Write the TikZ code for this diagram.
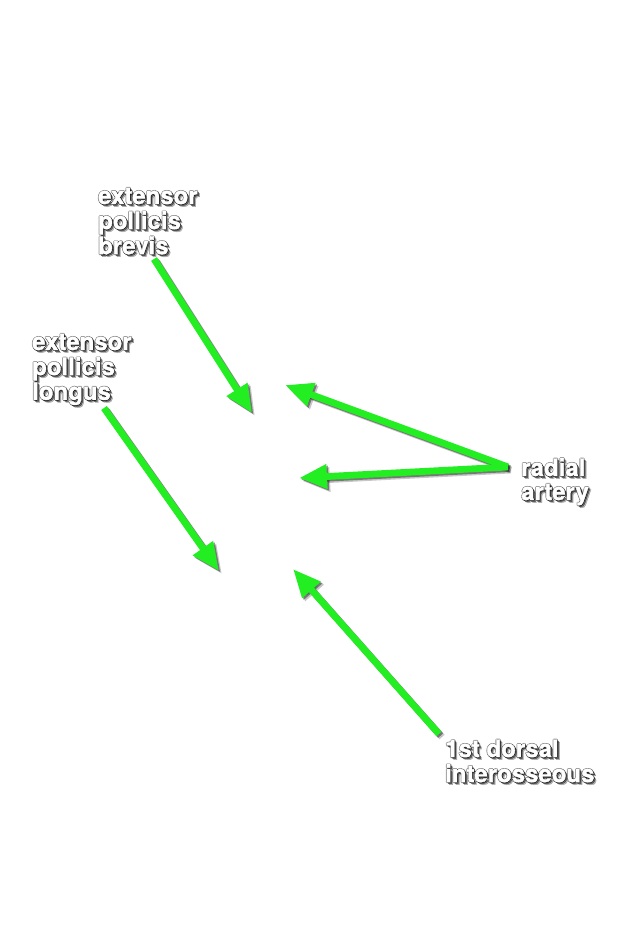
\documentclass[tikz,border=0pt]{standalone}
\usepackage{fontspec}
\setmainfont{TeX Gyre Heros}[BoldFeatures={FakeBold=1.6}]
\usetikzlibrary{arrows.meta,calc}
\definecolor{arrowgreen}{RGB}{34,238,34}
\tikzset{
  lbltext/.style={anchor=base west, inner sep=0pt, font=\bfseries\fontsize{24}{24}\selectfont},
  garr/.style={line width=6.8pt, line cap=butt, -{Triangle[length=28pt,width=23pt]}},
}
\newcommand\lbllines[1]{\begin{tabular}[t]{@{}l@{}}#1\end{tabular}}
\newcommand\mylabel[3]{%
  \foreach \dx/\dy/\op in {2.6/2.6/0.25, 1.6/1.6/0.45, -0.7/0/0.3, 0/-0.7/0.3, 0.8/0/0.5, 0/0.8/0.5}{
    \node[lbltext, text=black, opacity=\op] at ($(#2)+(\dx,\dy)$) {\lbllines{#3}};
  }
  \node[lbltext, text=white] (#1) at (#2) {\lbllines{#3}};
}
\newcommand\garrow[2]{%
  \draw[garr, draw=black, fill=black, opacity=0.22] ($(#1)+(3,3)$) -- ($(#2)+(3,3)$);
  \draw[garr, draw=black, fill=black, opacity=0.4] ($(#1)+(1.6,1.6)$) -- ($(#2)+(1.6,1.6)$);
  \draw[garr, draw=arrowgreen, fill=arrowgreen] (#1) -- (#2);
}
\begin{document}
\begin{tikzpicture}[x=1pt,y=-1pt]
\fill[white] (0,0) rectangle (631,950);
\useasboundingbox (0,0) rectangle (631,950);

\coordinate (epbT) at (154,259);
\coordinate (epbH) at (252,413);
\coordinate (eplT) at (104,408);
\coordinate (eplH) at (219,571);
\coordinate (raT) at (508,467);
\coordinate (raH1) at (285,385);
\coordinate (raH2) at (299,478);
\coordinate (fdiT) at (439,734);
\coordinate (fdiH) at (293,569);

\garrow{epbT}{epbH}
\garrow{eplT}{eplH}
\garrow{raT}{raH1}
\garrow{raT}{raH2}
\garrow{fdiT}{fdiH}

\mylabel{epb}{98,204}{extensor\\pollicis\\brevis}
\mylabel{epl}{32,350}{extensor\\pollicis\\longus}
\mylabel{ra}{521,476}{radial\\artery}
\mylabel{fdi}{445,757}{1st dorsal\\interosseous}
\end{tikzpicture}
\end{document}
